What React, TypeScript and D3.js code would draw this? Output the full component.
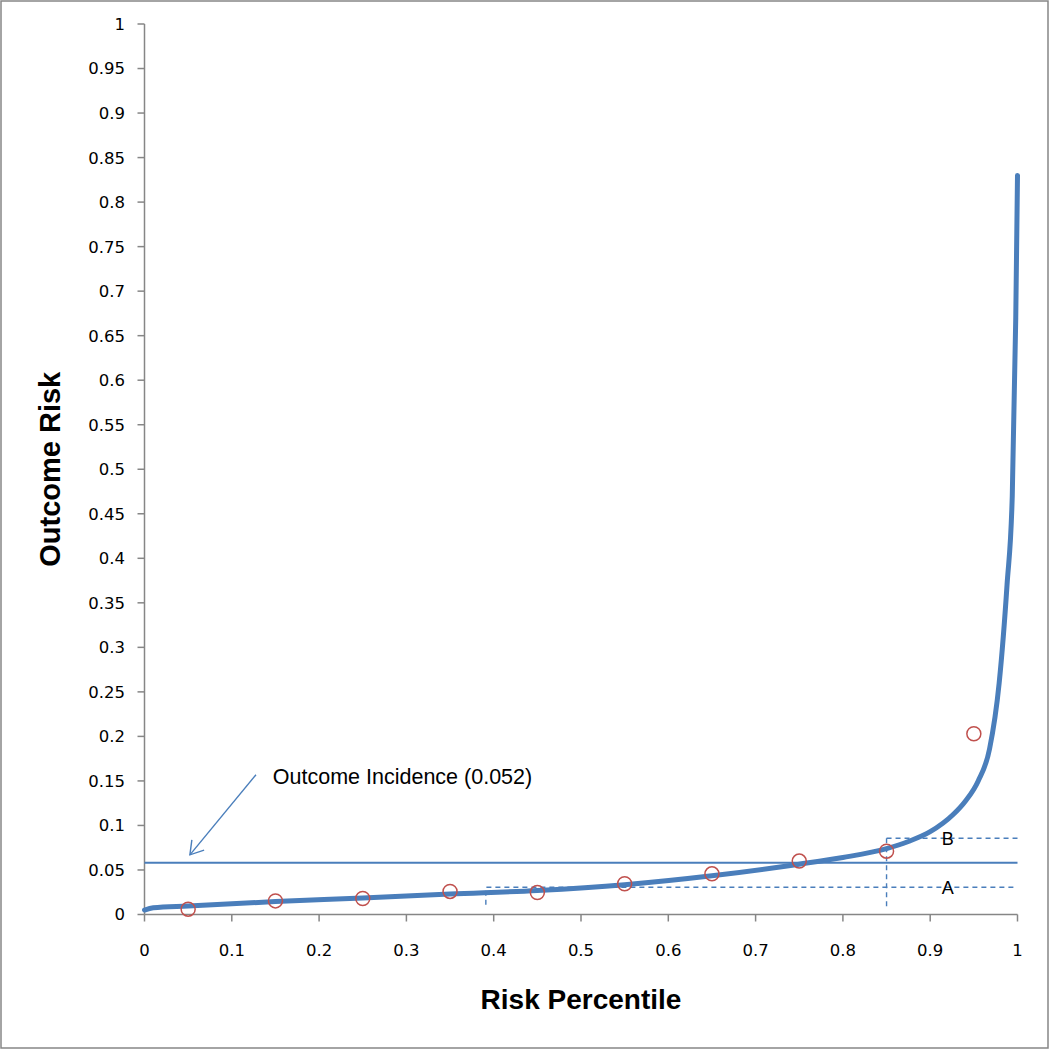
import React from 'react';
import * as d3 from 'd3';

// Smooth risk curve (percentile -> outcome risk)
const curvePercentile = [0, 0.01, 0.05, 0.15, 0.25, 0.35, 0.45, 0.55, 0.65, 0.75, 0.8, 0.85, 0.875, 0.9, 0.926, 0.94, 0.955, 0.968, 0.979, 0.988, 0.994, 0.998, 1.0];
const curveRisk = [0.005, 0.0075, 0.0095, 0.0145, 0.0185, 0.023, 0.027, 0.0335, 0.0435, 0.0565, 0.064, 0.074, 0.082, 0.093, 0.112, 0.127, 0.15, 0.186, 0.26, 0.37, 0.47, 0.67, 0.83];

// Observed decile risks (open red circles)
const decilePercentile = [0.05, 0.15, 0.25, 0.35, 0.45, 0.55, 0.65, 0.75, 0.85, 0.95];
const decileObserved = [0.006, 0.0153, 0.018, 0.0259, 0.0247, 0.0345, 0.0457, 0.06, 0.0711, 0.203];

const xTickLabels = ['0', '0.1', '0.2', '0.3', '0.4', '0.5', '0.6', '0.7', '0.8', '0.9', '1'];
const yTickLabels = ['0', '0.05', '0.1', '0.15', '0.2', '0.25', '0.3', '0.35', '0.4', '0.45', '0.5', '0.55', '0.6', '0.65', '0.7', '0.75', '0.8', '0.85', '0.9', '0.95', '1'];

const incidenceLevel = [0.058];
const incidenceLabel = ['Outcome Incidence (0.052)'];
const arrowFrom = [0.1277, 0.157];
const arrowTo = [0.052, 0.067];
const labelAnchor = [0.147, 0.147];

const markerA = [0.391, 0.0306]; // percentile where dashed A starts, risk level
const markerB = [0.85, 0.0857];
const markerBottomA = [0.011];
const markerBottomB = [0.005];
const dashEnd = [0.997];
const markerLetters = ['A', 'B'];
const letterX = [0.92];

const xTitle = 'Risk Percentile';
const yTitle = 'Outcome Risk';

const BLUE = '#4a7ebb';
const RED = '#c0504d';
const AXIS = '#868686';

export default function App() {
  const x = d3.scaleLinear().domain([0, 1]).range([144.5, 1017.5]);
  const y = d3.scaleLinear().domain([0, 1]).range([914.5, 24]);

  const curveData = curvePercentile.map((p, i) => [p, curveRisk[i]] as [number, number]);
  const line = d3
    .line<[number, number]>()
    .x((d) => x(d[0]))
    .y((d) => y(d[1]))
    .curve(d3.curveMonotoneX);

  const xTickVals = xTickLabels.map((t) => +t);
  const yTickVals = yTickLabels.map((t) => +t);

  // arrow head
  const tipX = x(arrowTo[0]);
  const tipY = y(arrowTo[1]);
  const ang = Math.atan2(y(arrowFrom[1]) - tipY, x(arrowFrom[0]) - tipX);
  const wing = 15;
  const spread = (32 * Math.PI) / 180;
  const w1 = [tipX + wing * Math.cos(ang - spread), tipY + wing * Math.sin(ang - spread)];
  const w2 = [tipX + wing * Math.cos(ang + spread), tipY + wing * Math.sin(ang + spread)];

  const dash = '5,4';

  return (
    <svg
      width={1050}
      height={1050}
      style={{ position: 'absolute', left: 0, top: 0, background: '#fff' }}
      fontFamily="'DejaVu Sans', sans-serif"
    >
      <rect x={1} y={1} width={1047} height={1047} fill="#fff" stroke={AXIS} strokeWidth={1.5} />

      {/* axes */}
      <line x1={x(0)} x2={x(0)} y1={y(1)} y2={y(0)} stroke={AXIS} strokeWidth={1.5} />
      <line x1={x(0)} x2={x(1)} y1={y(0)} y2={y(0)} stroke={AXIS} strokeWidth={1.5} />
      {yTickVals.map((v, i) => (
        <g key={'y' + i}>
          <line x1={x(0) - 7} x2={x(0)} y1={y(v)} y2={y(v)} stroke={AXIS} strokeWidth={1.5} />
          <text x={125} y={y(v)} dy="0.36em" textAnchor="end" fontSize={16.5} fill="#000">
            {yTickLabels[i]}
          </text>
        </g>
      ))}
      {xTickVals.map((v, i) => (
        <g key={'x' + i}>
          <line x1={x(v)} x2={x(v)} y1={y(0)} y2={y(0) + 7} stroke={AXIS} strokeWidth={1.5} />
          <text x={x(v)} y={950} dy="0.36em" textAnchor="middle" fontSize={16.5} fill="#000">
            {xTickLabels[i]}
          </text>
        </g>
      ))}

      {/* axis titles */}
      <text
        x={x(0.5)}
        y={1009}
        textAnchor="middle"
        fontFamily="'Liberation Sans', Arial, sans-serif"
        fontWeight="bold"
        fontSize={28}
        fill="#000"
      >
        {xTitle}
      </text>
      <text
        transform={`translate(60, ${y(0.5)}) rotate(-90)`}
        textAnchor="middle"
        fontFamily="'Liberation Sans', Arial, sans-serif"
        fontWeight="bold"
        fontSize={29}
        fill="#000"
      >
        {yTitle}
      </text>

      {/* incidence line */}
      <line
        x1={x(0)}
        x2={x(1)}
        y1={y(incidenceLevel[0])}
        y2={y(incidenceLevel[0])}
        stroke={BLUE}
        strokeWidth={2}
      />

      {/* dashed markers A and B */}
      <g stroke={BLUE} strokeWidth={1.4} strokeDasharray={dash} fill="none">
        <path
          d={`M${x(markerA[0])},${y(markerBottomA[0])}V${y(markerA[1])}H${x(dashEnd[0])}`}
        />
        <line x1={x(markerB[0])} x2={x(markerB[0])} y1={y(markerB[1])} y2={y(markerBottomB[0])} />
        <line x1={x(markerB[0])} x2={x(1)} y1={y(markerB[1])} y2={y(markerB[1])} />
      </g>
      {markerLetters.map((l, i) => (
        <text
          key={l}
          x={x(letterX[0])}
          y={y(i === 0 ? markerA[1] : markerB[1])}
          dy="0.36em"
          textAnchor="middle"
          fontFamily="'Liberation Sans', Arial, sans-serif"
          fontSize={18}
          fill="#000"
        >
          {l}
        </text>
      ))}

      {/* curve */}
      <path d={line(curveData) || ''} fill="none" stroke={BLUE} strokeWidth={5} strokeLinecap="round" />

      {/* observed circles */}
      {decilePercentile.map((p, i) => (
        <circle
          key={'c' + i}
          cx={x(p)}
          cy={y(decileObserved[i])}
          r={7}
          fill="none"
          stroke={RED}
          strokeWidth={1.5}
        />
      ))}

      {/* annotation arrow */}
      <line x1={x(arrowFrom[0])} y1={y(arrowFrom[1])} x2={tipX} y2={tipY} stroke={BLUE} strokeWidth={1.4} />
      <polyline
        points={`${w1[0]},${w1[1]} ${tipX},${tipY} ${w2[0]},${w2[1]}`}
        fill="none"
        stroke={BLUE}
        strokeWidth={1.4}
      />
      <text
        x={x(labelAnchor[0])}
        y={y(labelAnchor[1])}
        fontFamily="'Liberation Sans', Arial, sans-serif"
        fontSize={21.5}
        fill="#000"
      >
        {incidenceLabel[0]}
      </text>
    </svg>
  );
}
